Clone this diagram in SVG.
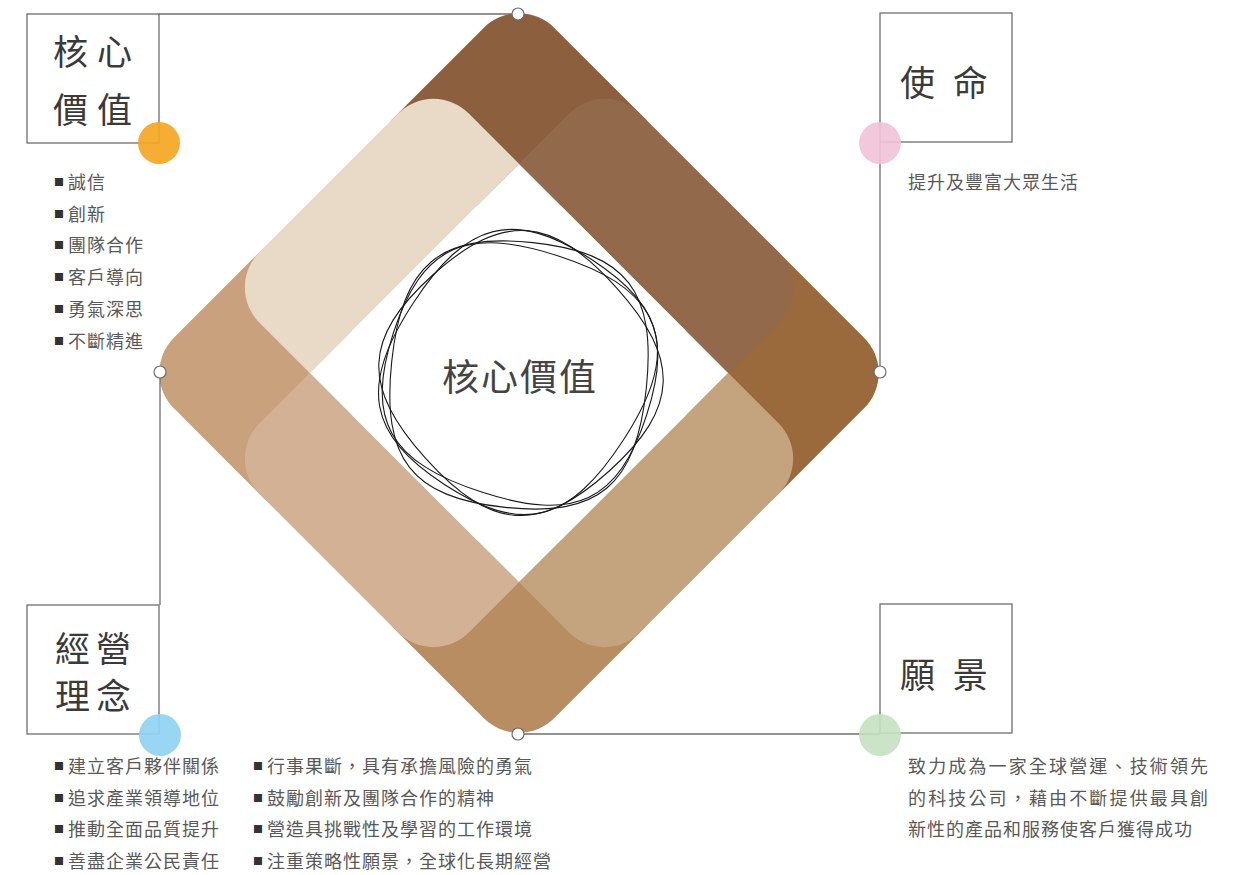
<svg xmlns="http://www.w3.org/2000/svg" xmlns:xlink="http://www.w3.org/1999/xlink" width="1257" height="875" viewBox="0 0 1257 875">
<style>
.frame{fill:none;stroke:#6e6e6e;stroke-width:1.3}
.vtx{fill:#fff;stroke:#6e6e6e;stroke-width:1.2}
.head{font-family:"Noto Sans CJK TC","Noto Sans CJK SC",sans-serif;font-size:35px;fill:#3a3a3a}
.body{font-family:"Noto Sans CJK TC","Noto Sans CJK SC",sans-serif;font-size:18px;fill:#595959;letter-spacing:1px}
.body.wide{letter-spacing:2.15px}
.bul{font-family:"Noto Sans CJK TC","Noto Sans CJK SC",sans-serif;font-size:10px;fill:#333}
.sk{fill:none;stroke:#1a1a1a;stroke-width:1.1}
.center{font-family:"Noto Sans CJK TC","Noto Sans CJK SC",sans-serif;font-size:37px;fill:#444;letter-spacing:2px}
</style>
<defs>
<path id="corner" d="M -269,-219 A 50,50 0 0 1 -219,-269 L -88,-269 L -88,-148 L -148,-148 L -148,-88 L -269,-88 Z"/>
<path id="band" d="M -148,-148 L -148,-219 A 50,50 0 0 1 -98,-269 L 98,-269 A 50,50 0 0 1 148,-219 L 148,-148 Z"/>
<path id="blob" d="M128,0 C128,94 94,128 0,128 C-94,128 -128,94 -128,0 C-128,-94 -94,-128 0,-128 C94,-128 128,-94 128,0 Z"/>
</defs>
<rect width="1257" height="875" fill="#fff"/>

<g id="diamond" transform="translate(519,373) rotate(45)">
<use xlink:href="#corner" fill="#8c5f3f"/>
<use xlink:href="#corner" fill="#9a6a3c" transform="rotate(90)"/>
<use xlink:href="#corner" fill="#b88d62" transform="rotate(180)"/>
<use xlink:href="#corner" fill="#c9a17d" transform="rotate(270)"/>
<use xlink:href="#band" fill="#93694b"/>
<use xlink:href="#band" fill="#c4a47e" transform="rotate(90)"/>
<use xlink:href="#band" fill="#d2b195" transform="rotate(180)"/>
<use xlink:href="#band" fill="#e8dac7" transform="rotate(270)"/>
</g>

<g id="connectors">
<polyline class="frame" points="159,14 518,14"/>
<polyline class="frame" points="160,372 160,605"/>
<polyline class="frame" points="880,372 880,142"/>
<polyline class="frame" points="518,734 880,734"/>
</g>

<g id="center-node">
<use xlink:href="#blob" class="sk" transform="translate(520,374) rotate(18) scale(1.04,0.97)" vector-effect="non-scaling-stroke"/>
<use xlink:href="#blob" class="sk" transform="translate(518,372) rotate(33) scale(0.98,1.05)" vector-effect="non-scaling-stroke"/>
<use xlink:href="#blob" class="sk" transform="translate(521,373) rotate(48) scale(1.03,1.0)" vector-effect="non-scaling-stroke"/>
<use xlink:href="#blob" class="sk" transform="translate(519,375) rotate(6) scale(1.0,1.04)" vector-effect="non-scaling-stroke"/>
<text class="center" x="442" y="391">核心價值</text>
</g>

<g id="node-core">
<rect class="frame" x="27" y="14" width="132" height="129"/>
<circle cx="159" cy="143" r="21" fill="#f5a623" opacity="0.92"/>
<text class="head" x="53" y="65" letter-spacing="9">核心</text>
<text class="head" x="53" y="123" letter-spacing="9">價值</text>
<text class="bul" x="54" y="186">■</text><text class="body" x="68" y="189">誠信</text>
<text class="bul" x="54" y="218">■</text><text class="body" x="68" y="221">創新</text>
<text class="bul" x="54" y="249">■</text><text class="body" x="68" y="252">團隊合作</text>
<text class="bul" x="54" y="281">■</text><text class="body" x="68" y="284">客戶導向</text>
<text class="bul" x="54" y="313">■</text><text class="body" x="68" y="316">勇氣深思</text>
<text class="bul" x="54" y="345">■</text><text class="body" x="68" y="348">不斷精進</text>
</g>

<g id="node-mission">
<rect class="frame" x="880" y="13" width="132" height="129"/>
<circle cx="880" cy="143" r="21" fill="#f1c3d8" opacity="0.9"/>
<text class="head" x="900" y="96" xml:space="preserve" letter-spacing="5">使 命</text>
<text class="body" x="908" y="189">提升及豐富大眾生活</text>
</g>

<g id="node-philosophy">
<rect class="frame" x="27" y="605" width="132" height="129"/>
<circle cx="160" cy="735" r="21" fill="#8fd3f2" opacity="0.92"/>
<text class="head" x="55" y="662" letter-spacing="6">經營</text>
<text class="head" x="55" y="709" letter-spacing="6">理念</text>
<text class="bul" x="54" y="770">■</text><text class="body" x="68" y="773">建立客戶夥伴關係</text>
<text class="bul" x="54" y="802">■</text><text class="body" x="68" y="805">追求產業領導地位</text>
<text class="bul" x="54" y="833">■</text><text class="body" x="68" y="836">推動全面品質提升</text>
<text class="bul" x="54" y="865">■</text><text class="body" x="68" y="868">善盡企業公民責任</text>
<text class="bul" x="253" y="770">■</text><text class="body" x="267" y="773">行事果斷，具有承擔風險的勇氣</text>
<text class="bul" x="253" y="802">■</text><text class="body" x="267" y="805">鼓勵創新及團隊合作的精神</text>
<text class="bul" x="253" y="833">■</text><text class="body" x="267" y="836">營造具挑戰性及學習的工作環境</text>
<text class="bul" x="253" y="865">■</text><text class="body" x="267" y="868">注重策略性願景，全球化長期經營</text>
</g>

<g id="node-vision">
<rect class="frame" x="880" y="604" width="132" height="129"/>
<circle cx="880" cy="735" r="21" fill="#c5e0c0" opacity="0.9"/>
<text class="head" x="900" y="688" xml:space="preserve" letter-spacing="5">願 景</text>
<text class="body wide" x="908" y="773">致力成為一家全球營運、技術領先</text>
<text class="body wide" x="908" y="805">的科技公司，藉由不斷提供最具創</text>
<text class="body" x="908" y="836">新性的產品和服務使客戶獲得成功</text>
</g>

<g id="vertices">
<circle class="vtx" cx="518" cy="14" r="6"/>
<circle class="vtx" cx="880" cy="372" r="6"/>
<circle class="vtx" cx="518" cy="734" r="6"/>
<circle class="vtx" cx="160" cy="372" r="6"/>
</g>
</svg>
